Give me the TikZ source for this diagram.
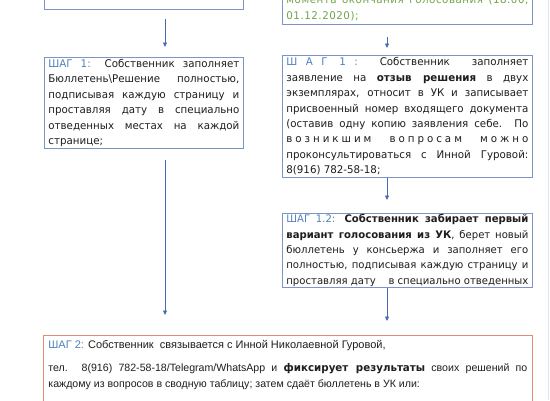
\documentclass[tikz,border=0pt]{standalone}
\usepackage{fontspec}
\setmainfont[FakeStretch=0.97]{DejaVu Sans}
\newfontfamily\notefont{Liberation Sans}
\newfontfamily\widefont[FakeStretch=0.97,LetterSpace=80]{DejaVu Sans}
\newfontfamily\spacedfont[FakeStretch=0.97,LetterSpace=28]{DejaVu Sans}
\newfontfamily\greenfont[FakeStretch=0.97,LetterSpace=5]{DejaVu Sans}
\usetikzlibrary{arrows.meta}
\definecolor{StepBlue}{RGB}{79,129,189}
\definecolor{BoxBlue}{RGB}{125,148,200}
\definecolor{ArrowBlue}{RGB}{72,108,178}
\definecolor{NoteGreen}{RGB}{112,165,72}
\definecolor{SalmonLine}{RGB}{226,138,118}
\definecolor{TextGray}{RGB}{30,30,30}
\definecolor{EdgeGray}{RGB}{226,229,234}
\newcommand{\steplabel}[1]{\textcolor{StepBlue}{#1}}
\tolerance=9999
\hbadness=10000

\begin{document}
\begin{tikzpicture}[x=1pt, y=-1pt,
 stepbox/.style={draw=BoxBlue, line width=0.8pt, fill=white, anchor=north west, align=justify, inner xsep=4pt, inner ysep=1pt, text=TextGray, font=\fontsize{10.6}{15.4}\selectfont},
 notebox/.style={draw=SalmonLine, line width=0.8pt, fill=white, anchor=north west, align=justify, inner xsep=5pt, inner ysep=5pt, text=TextGray, font=\notefont\fontsize{10.6}{16}\selectfont},
 arr/.style={-{Triangle[length=4.5pt,width=4pt]}, ArrowBlue, line width=0.7pt}
]
\clip (0,0) rectangle (550,400);
\draw[EdgeGray, line width=1pt] (548,0) -- (548,400);

% left column
\node[stepbox, text width=191pt, minimum height=50pt, anchor=south west] (prevL) at (44,10) {};
\node[stepbox, text width=191pt, minimum height=91pt] (stepL) at (44,57) {\steplabel{ШАГ 1:} Собственник заполняет\linebreak
Бюллетень\textbackslash Решение полностью,\linebreak
подписывая каждую страницу и\linebreak
проставляя дату в специально\linebreak
отведенных местах на каждой\linebreak
странице;};

% right column
\node[stepbox, text width=242pt, inner ysep=4pt, anchor=south west] (prevR) at (282,25) {\color{NoteGreen}\greenfont момента окончания голосования (18.00,\linebreak
01.12.2020);};
\node[stepbox, text width=242pt, minimum height=122pt] (stepR) at (282,55) {{\color{StepBlue}\widefont\mbox{ШАГ 1:}} Собственник заполняет\linebreak
заявление на \textbf{отзыв решения} в двух\linebreak
экземплярах, относит в УК и записывает\linebreak
присвоенный номер входящего документа\linebreak
(оставив одну копию заявления себе. По\linebreak
{\spacedfont возникшим вопросам можно}\linebreak
проконсультироваться с Инной Гуровой:\linebreak
8(916) 782-58-18;};
\node[stepbox, text width=242pt, minimum height=74pt, inner ysep=0pt, font=\fontsize{10.4}{15.4}\selectfont] (stepRb) at (282,213) {\parfillskip=0pt \steplabel{ШАГ 1.2:} \textbf{Собственник забирает первый}\linebreak
\textbf{вариант голосования из УК}, берет новый\linebreak
бюллетень у консьержа и заполняет его\linebreak
полностью, подписывая каждую страницу и\linebreak
проставляя дату\ \ \ \ в специально отведенных};

% common step
\node[notebox, text width=479pt, text depth=70pt] (stepTwo) at (43,335) {{\fontsize{11}{16}\selectfont\steplabel{ШАГ 2:} Собственник\ \ связывается с Инной Николаевной Гуровой,}\\[7pt]
тел. 8(916) 782-58-18/Telegram/WhatsApp и \textbf{\rmfamily фиксирует результаты} своих решений по\linebreak
каждому из вопросов в сводную таблицу; затем сдаёт бюллетень в УК или:};

\coordinate (colL) at (165,0);
\coordinate (colR) at (387,0);
\draw[arr, shorten <=9pt, shorten >=10pt] (prevL.south -| colL) -- (stepL.north -| colL);
\draw[arr, shorten <=11pt, shorten >=20pt] (stepL.south -| colL) -- (stepTwo.north -| colL);
\draw[arr, shorten <=12pt, shorten >=7pt] (prevR.south -| colR) -- (stepR.north -| colR);
\draw[arr, shorten >=13pt] (stepR.south -| colR) -- (stepRb.north -| colR);
\draw[arr, shorten >=14pt] (stepRb.south -| colR) -- (stepTwo.north -| colR);
\end{tikzpicture}
\end{document}
